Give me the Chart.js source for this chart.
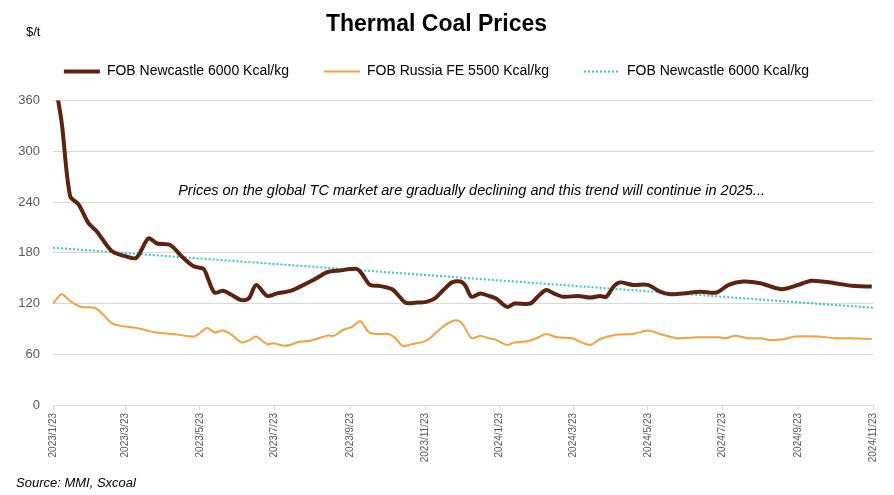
<!DOCTYPE html>
<html>
<head>
<meta charset="utf-8">
<title>Thermal Coal Prices</title>
<script src="https://cdn.jsdelivr.net/npm/chart.js@4.4.1/dist/chart.umd.min.js"></script>
<style>
  html, body { margin: 0; padding: 0; background: #fff; }
  #wrap { width: 894px; height: 495px; position: relative; }
</style>
</head>
<body>
<div id="wrap"><canvas id="chart"></canvas></div>
<script>
// Days are counted from 2023/1/23 (the first tick on the x axis)
const startDate = new Date(2023, 0, 23);

const tickLabels = ['2023/1/23', '2023/3/23', '2023/5/23', '2023/7/23', '2023/9/23', '2023/11/23',
    '2024/1/23', '2024/3/23', '2024/5/23', '2024/7/23', '2024/9/23', '2024/11/23'];

const yTicks = [0, 60, 120, 180, 240, 300, 360];

const newcastleDays = [0, 7, 14, 21, 29, 36, 48, 59, 68, 78, 85, 96, 105, 115, 123, 127, 132, 139, 145, 154,
    160, 166, 175, 183, 194, 202, 213, 224, 234, 248, 252, 259, 266, 277, 282, 288, 296, 305, 312, 319,
    326, 333, 337, 342, 349, 356, 362, 371, 377, 390, 396, 403, 409, 417, 429, 439, 447, 452, 458, 463,
    474, 486, 496, 504, 515, 529, 542, 552, 564, 578, 595, 609, 620, 639, 653, 669];
const newcastlePrices = [395, 335, 247, 237, 215, 205, 182, 176, 174, 197, 191, 189, 176, 164, 161, 148, 133, 135, 131, 124,
    126, 142, 129, 132, 135, 140, 148, 157, 159, 161, 156, 142, 141, 137, 130, 121, 121, 122, 126, 136,
    145, 146, 141, 128, 132, 129, 126, 116, 120, 120, 128, 136, 132, 128, 129, 127, 129, 128, 140, 145,
    142, 142, 134, 131, 132, 134, 133, 142, 146, 144, 137, 142, 147, 144, 141, 140];

const russiaDays = [0, 7, 14, 23, 34, 41, 49, 64, 72, 83, 97, 108, 115, 119, 126, 132, 139, 146, 154, 161,
    166, 175, 180, 190, 202, 210, 224, 230, 237, 244, 251, 258, 264, 274, 279, 286, 293, 303, 308, 318,
    326, 331, 335, 342, 349, 356, 362, 371, 377, 386, 395, 403, 412, 424, 432, 439, 447, 460, 474, 486,
    496, 510, 526, 544, 550, 557, 568, 578, 585, 598, 606, 625, 639, 653, 669];
const russiaPrices = [120, 131, 123, 116, 115, 107, 96, 92, 90, 86, 84, 82, 81, 84, 91, 86, 88, 83, 74, 77,
    81, 72, 73, 70, 75, 76, 82, 82, 89, 92, 99, 86, 84, 84, 80, 70, 72, 75, 79, 92,
    99, 100, 95, 79, 82, 79, 77, 71, 74, 75, 79, 84, 80, 79, 74, 71, 78, 83, 84, 88,
    84, 79, 80, 80, 79, 82, 79, 79, 77, 78, 81, 81, 79, 79, 78];

// linear trend of the Newcastle series, start and end
const trendDays = [0, 670];
const trendPrices = [186, 115];

const seriesNames = ['FOB Newcastle 6000 Kcal/kg', 'FOB Russia FE 5500 Kcal/kg', 'FOB Newcastle 6000 Kcal/kg'];
const noteText = 'Prices on the global TC market are gradually declining and this trend will continue in 2025...';

function dayOf(label) {
    const [y, m, d] = label.split('/').map(Number);
    return Math.round((new Date(y, m - 1, d) - startDate) / 86400000);
}
const tickDays = tickLabels.map(dayOf);

function toPoints(days, values) {
    return days.map((d, i) => ({ x: d, y: values[i] }));
}

Chart.defaults.font.family = '"Liberation Sans", Arial, sans-serif';

// push the plot down a little below the legend
const legendGap = {
    id: 'legendGap',
    beforeInit(chart) {
        const fit = chart.legend.fit;
        chart.legend.fit = function () {
            fit.bind(chart.legend)();
            this.height += 12;
        };
    }
};

// unit label, note and source line
const extraText = {
    id: 'extraText',
    afterDraw(chart) {
        const { ctx, scales: { x, y } } = chart;
        ctx.save();
        ctx.fillStyle = '#000';
        ctx.textBaseline = 'middle';
        ctx.font = '13px "Liberation Sans", Arial, sans-serif';
        ctx.fillText('$/t', 26, 32);
        ctx.font = 'italic 14.5px "Liberation Sans", Arial, sans-serif';
        ctx.textAlign = 'center';
        ctx.fillText(noteText, x.getPixelForValue(342), y.getPixelForValue(253));
        ctx.textAlign = 'left';
        ctx.font = 'italic 13px "Liberation Sans", Arial, sans-serif';
        ctx.fillText('Source: MMI, Sxcoal', 16, 483);
        ctx.restore();
    }
};

const ctx = document.getElementById('chart').getContext('2d');
new Chart(ctx, {
    type: 'line',
    data: {
        datasets: [
            {
                label: seriesNames[0],
                data: toPoints(newcastleDays, newcastlePrices),
                borderColor: '#5C2310',
                borderWidth: 4,
                pointRadius: 0,
                tension: 0.3
            },
            {
                label: seriesNames[1],
                data: toPoints(russiaDays, russiaPrices),
                borderColor: '#F0A244',
                borderWidth: 2,
                pointRadius: 0,
                tension: 0.3
            },
            {
                label: seriesNames[2],
                data: toPoints(trendDays, trendPrices),
                borderColor: '#3CC8BE',
                borderWidth: 2,
                borderDash: [2, 2],
                pointRadius: 0
            }
        ]
    },
    options: {
        responsive: true,
        maintainAspectRatio: false,
        animation: false,
        layout: { padding: { left: 0, right: 21, top: 0, bottom: 0 } },
        plugins: {
            title: {
                display: true,
                text: 'Thermal Coal Prices',
                color: '#000',
                font: { size: 23, weight: 'bold', lineHeight: 0.4 },
                padding: { top: 20.4, bottom: 0 }
            },
            legend: {
                position: 'top',
                labels: {
                    usePointStyle: true,
                    pointStyle: 'line',
                    pointStyleWidth: 36,
                    color: '#000',
                    font: { size: 14 },
                    padding: 35,
                    // take the line width and dash from the dataset, not from its points
                    generateLabels: chart => Chart.defaults.plugins.legend.labels.generateLabels(chart).map((item, i) => {
                        const ds = chart.data.datasets[i];
                        item.strokeStyle = ds.borderColor;
                        item.lineWidth = ds.borderWidth;
                        item.lineDash = ds.borderDash || [];
                        return item;
                    })
                }
            },
            tooltip: { enabled: false }
        },
        scales: {
            x: {
                type: 'linear',
                min: 0,
                max: 670,
                afterBuildTicks: scale => {
                    scale.ticks = tickDays.map(v => ({ value: v }));
                },
                afterFit: scale => { scale.height = 90; },
                ticks: {
                    autoSkip: false,
                    minRotation: 90,
                    maxRotation: 90,
                    color: '#595959',
                    font: { size: 10 },
                    padding: 3,
                    callback: value => tickLabels[tickDays.indexOf(value)]
                },
                grid: {
                    drawOnChartArea: false,
                    drawTicks: true,
                    tickLength: 5,
                    color: '#d9d9d9'
                },
                border: { color: '#d9d9d9' }
            },
            y: {
                min: 0,
                max: 360,
                afterBuildTicks: scale => {
                    scale.ticks = yTicks.map(v => ({ value: v }));
                },
                afterFit: scale => { scale.width = 53; },
                ticks: {
                    color: '#595959',
                    font: { size: 13 },
                    padding: 13
                },
                grid: {
                    color: '#d9d9d9',
                    drawTicks: false
                },
                border: { display: false }
            }
        }
    },
    plugins: [legendGap, extraText]
});
</script>
</body>
</html>
